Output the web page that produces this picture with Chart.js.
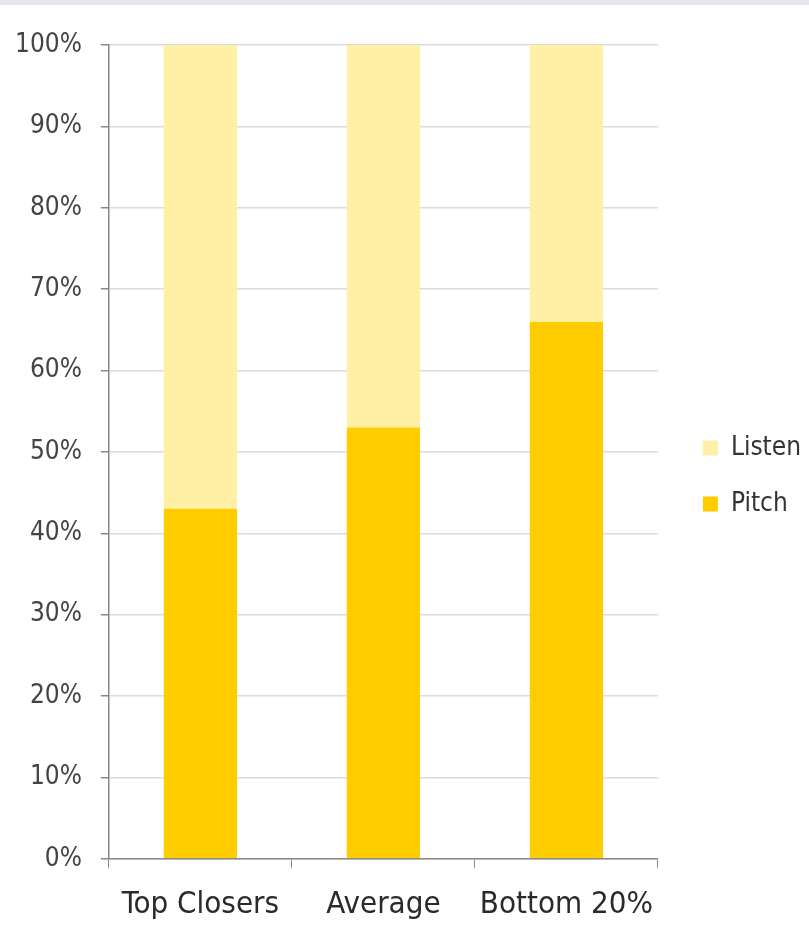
<!DOCTYPE html>
<html><head><meta charset="utf-8">
<script src="https://cdn.jsdelivr.net/npm/chart.js@4"></script>
<style>
html,body{margin:0;padding:0;background:#fff;}
body{width:809px;height:929px;overflow:hidden;border-top:5px solid #e4e6f2;box-sizing:border-box;position:relative;}
#wrap{position:absolute;left:-4px;top:0;width:813px;height:938px;}
</style></head><body>
<div id="wrap"><canvas id="c"></canvas></div>
<script>
const categories = ["Top Closers", "Average", "Bottom 20%"];
const pitch = [43, 53, 66];
const listen = [57, 47, 34];
const yTicks = [0,10,20,30,40,50,60,70,80,90,100];

const FONT = "'DejaVu Sans Condensed', 'Liberation Sans Narrow', sans-serif";

const legendGap = {
  id: 'legendGap',
  afterInit(chart) {
    const lg = chart.legend;
    if (!lg) return;
    const fit = lg.fit.bind(lg);
    lg.fit = function () { fit(); this.width += 13; };
    const draw = lg.draw.bind(lg);
    lg.draw = function () {
      const ctx = this.ctx; ctx.save(); ctx.translate(15, -18); draw(); ctx.restore();
    };
  }
};

new Chart(document.getElementById('c'), {
  type: 'bar',
  data: {
    labels: categories,
    datasets: [
      {label: 'Pitch', data: pitch, backgroundColor: '#ffcc00', barPercentage: 0.4, categoryPercentage: 1},
      {label: 'Listen', data: listen, backgroundColor: '#fff0a6', barPercentage: 0.4, categoryPercentage: 1}
    ]
  },
  options: {
    responsive: true, maintainAspectRatio: false, animation: false,
    layout: {padding: {left: 0, right: 0, top: 40, bottom: 0}},
    plugins: {
      tooltip: {enabled: false},
      legend: {
        position: 'right', reverse: true,
        labels: {boxWidth: 15, boxHeight: 15, padding: 30, color: '#333',
          font: {family: FONT, size: 26}}
      }
    },
    scales: {
      x: {
        stacked: true,
        grid: {display: true, drawOnChartArea: false, drawTicks: true, tickLength: 9, offset: true, color: '#888'},
        border: {color: '#888', width: 1.5},
        ticks: {color: '#2a2a2a', padding: 19, font: {family: FONT, size: 31}}
      },
      y: {
        stacked: true, min: 0, max: 100,
        afterBuildTicks: s => { s.ticks = yTicks.map(v => ({value: v})); },
        grid: {color: '#dcdcdc', lineWidth: 1.5, tickLength: 8, tickColor: '#888'},
        border: {color: '#888', width: 1.5},
        ticks: {color: '#444', padding: 19, font: {family: FONT, size: 26}, callback: v => v + '%'}
      }
    }
  },
  plugins: [legendGap]
});
</script>
</body></html>
